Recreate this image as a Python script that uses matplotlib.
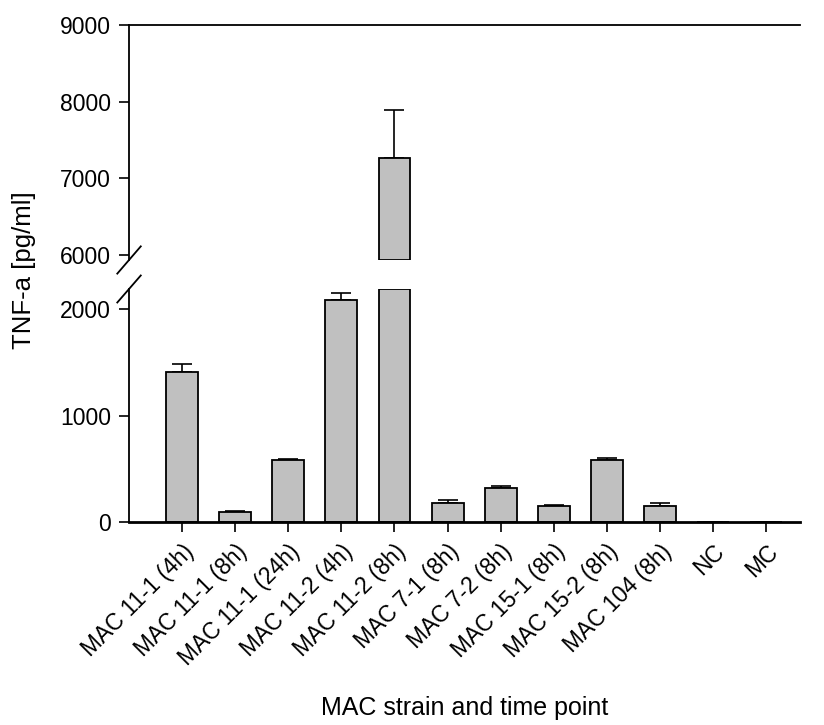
import matplotlib
matplotlib.use('Agg')
import matplotlib.pyplot as plt
import numpy as np

plt.rcParams['font.family'] = ['Liberation Sans', 'DejaVu Sans']

# datos
cepas = ['MAC 11-1 (4h)', 'MAC 11-1 (8h)', 'MAC 11-1 (24h)', 'MAC 11-2 (4h)',
         'MAC 11-2 (8h)', 'MAC 7-1 (8h)', 'MAC 7-2 (8h)', 'MAC 15-1 (8h)',
         'MAC 15-2 (8h)', 'MAC 104 (8h)', 'NC', 'MC']
tnf = [1410, 97, 580, 2090, 7260, 183, 323, 153, 580, 150, 1, 1]
error = [78, 3, 15, 62, 630, 25, 15, 3, 20, 30, 3, 3]

# limites del eje cortado
limInferior = (0, 2190)
limSuperior = (5930, 9000)

fig = plt.figure(figsize=(8.24, 7.25), dpi=100)
axSup = fig.add_axes([0.1566, 0.6414, 0.8144, 0.3241])
axInf = fig.add_axes([0.1566, 0.28, 0.8144, 0.3214])

x = np.arange(len(cepas))
colorBarra = '#c0c0c0'
anchoBarra = 0.6

# parte de abajo: las barras que pasan el limite se cortan en el borde
altInf = np.minimum(tnf, limInferior[1])
axInf.bar(x, altInf, anchoBarra, color=colorBarra, edgecolor='black', linewidth=1.3, zorder=2)
for i in range(len(x)):
    if tnf[i] < limInferior[1]:
        axInf.errorbar(x[i], tnf[i], yerr=[[0], [error[i]]], color='black',
                       capsize=7, elinewidth=1.2, capthick=1.2, zorder=1)

# parte de arriba
for i in range(len(x)):
    if tnf[i] > limSuperior[0]:
        axSup.bar(x[i], tnf[i] - limSuperior[0], anchoBarra, bottom=limSuperior[0],
                  color=colorBarra, edgecolor='black', linewidth=1.3, zorder=2)
        axSup.errorbar(x[i], tnf[i], yerr=[[0], [error[i]]], color='black',
                       capsize=7, elinewidth=1.2, capthick=1.2, zorder=1)

for ax in (axSup, axInf):
    ax.set_xlim(-1, 11.64)
    ax.spines['right'].set_visible(False)
    ax.spines['left'].set_linewidth(1.3)
    ax.tick_params(axis='y', direction='out', length=7, width=1.2, labelsize=16.5, pad=6)

axSup.set_ylim(*limSuperior)
axSup.set_yticks([6000, 7000, 8000, 9000])
axSup.spines['bottom'].set_visible(False)
axSup.spines['top'].set_linewidth(1.3)
axSup.set_xticks([])

axInf.set_ylim(*limInferior)
axInf.set_yticks([0, 1000, 2000])
axInf.spines['top'].set_visible(False)
axInf.spines['bottom'].set_linewidth(2)
axInf.set_xticks(x)
axInf.set_xticklabels(cepas, rotation=45, ha='right', rotation_mode='anchor', fontsize=16.5)
axInf.tick_params(axis='x', direction='out', length=7, width=1.2, pad=6)

# marcas de corte
d = 0.035
kw = dict(color='black', clip_on=False, linewidth=1.3)
axSup.plot([-d * 0.5, d * 0.5], [-0.058, 0.058], transform=axSup.transAxes, **kw)
axInf.plot([-d * 0.5, d * 0.5], [1 - 0.058, 1 + 0.058], transform=axInf.transAxes, **kw)

fig.text(0.5637, 0.0234, 'MAC strain and time point', va='center', ha='center', fontsize=18)
fig.text(0.029, 0.628, 'TNF-a [pg/ml]', rotation=90, va='center', ha='center', fontsize=18.5)

plt.savefig('out.png', dpi=100)
